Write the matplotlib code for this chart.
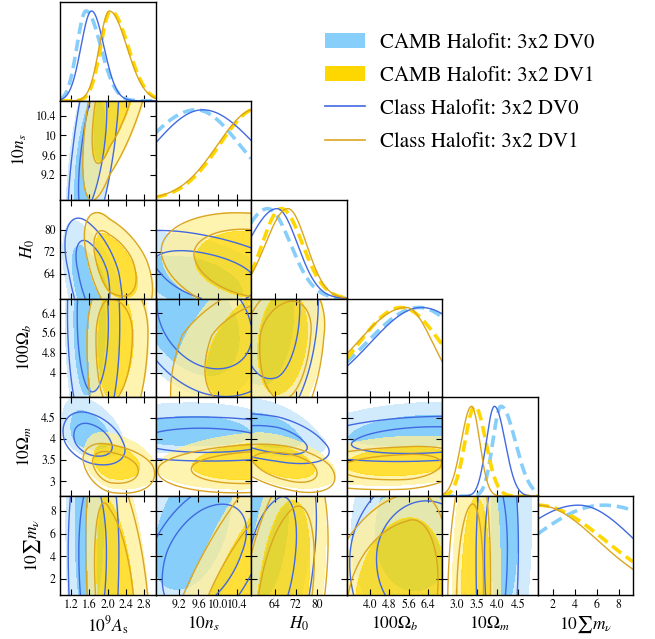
import numpy as np
import matplotlib
matplotlib.use("Agg")
import matplotlib.pyplot as plt
from matplotlib.patches import Patch
from matplotlib.lines import Line2D

plt.rcParams["font.family"] = ["STIXGeneral", "DejaVu Serif"]
plt.rcParams["mathtext.fontset"] = "stix"

# ---- parameters -----------------------------------------------------------
param_labels = [r"$10^9A_{\rm s}$", r"$10n_s$", r"$H_0$", r"$100\Omega_b$",
                r"$10\Omega_m$", r"$10\sum m_\nu$"]
param_ranges = [(0.96, 3.05), (8.7, 10.7), (55.0, 91.0), (3.0, 7.0),
                (2.65, 4.98), (0.6, 9.3)]
tick_values = [[1.2, 1.6, 2.0, 2.4, 2.8], [9.2, 9.6, 10.0, 10.4], [64, 72, 80],
               [4.0, 4.8, 5.6, 6.4], [3.0, 3.5, 4.0, 4.5], [2, 4, 6, 8]]
xtick_labels = [["1.2", "1.6", "2.0", "2.4", "2.8"], ["9.2", "9.6", "10.0", "10.4"],
                ["64", "72", "80"], ["4.0", "4.8", "5.6", "6.4"],
                ["3.0", "3.5", "4.0", "4.5"], ["2", "4", "6", "8"]]
ytick_labels = [["1.2", "1.6", "2", "2.4", "2.8"], ["9.2", "9.6", "10", "10.4"],
                ["64", "72", "80"], ["4", "4.8", "5.6", "6.4"],
                ["3", "3.5", "4", "4.5"], ["2", "4", "6", "8"]]

# ---- posterior summaries: mode, lower width, upper width per parameter ----
camb_dv0_mode = [1.53, 9.55, 61.3, 6.05, 4.09, 6.6]
camb_dv0_lo = [0.20, 1.10, 10.7, 2.22, 0.20, 6.8]
camb_dv0_hi = [0.32, 0.92, 8.6, 1.97, 0.35, 7.7]

class_dv0_mode = [1.65, 9.69, 64.8, 6.14, 3.93, 4.31]
class_dv0_lo = [0.23, 1.03, 11.2, 2.14, 0.20, 6.3]
class_dv0_hi = [0.27, 1.11, 7.7, 2.26, 0.26, 5.2]

camb_dv1_mode = [2.07, 10.85, 66.4, 5.29, 3.45, 0.6]
camb_dv1_lo = [0.22, 0.80, 7.2, 1.76, 0.24, 6.17]
camb_dv1_hi = [0.38, 0.80, 8.0, 1.66, 0.27, 6.17]

class_dv1_mode = [2.04, 10.80, 68.9, 5.50, 3.37, 0.6]
class_dv1_lo = [0.22, 0.80, 8.46, 2.06, 0.25, 5.5]
class_dv1_hi = [0.38, 0.80, 7.0, 1.11, 0.20, 5.5]

# pairwise correlations, order: As, ns, H0, Ob, Om, mnu
dv0_corr = {(0, 1): 0.60, (0, 2): -0.50, (0, 3): -0.05, (0, 4): -0.35, (0, 5): 0.0,
            (1, 2): -0.45, (1, 3): -0.30, (1, 4): -0.05, (1, 5): 0.45,
            (2, 3): 0.20, (2, 4): -0.45, (2, 5): 0.30,
            (3, 4): 0.20, (3, 5): 0.10,
            (4, 5): 0.05}
dv1_corr = {(0, 1): 0.65, (0, 2): -0.50, (0, 3): 0.05, (0, 4): -0.30, (0, 5): -0.35,
            (1, 2): -0.20, (1, 3): 0.50, (1, 4): 0.20, (1, 5): 0.70,
            (2, 3): 0.20, (2, 4): -0.45, (2, 5): 0.40,
            (3, 4): 0.20, (3, 5): 0.20,
            (4, 5): 0.10}

# kernel smoothing widens the 2D contours slightly relative to the 1D curves
SMOOTH_2D = 1.12

chains = [
    dict(name="CAMB Halofit: 3x2 DV0", mode=camb_dv0_mode, lo=camb_dv0_lo, hi=camb_dv0_hi,
         corr=dv0_corr, filled=True, color="#87CEFA",
         fills=("#d2ebfc", "#87CEFA"), alpha=1.0),
    dict(name="CAMB Halofit: 3x2 DV1", mode=camb_dv1_mode, lo=camb_dv1_lo, hi=camb_dv1_hi,
         corr=dv1_corr, filled=True, color="#FFD700",
         fills=("#fff09a", "#FFD700"), alpha=0.78),
    dict(name="Class Halofit: 3x2 DV0", mode=class_dv0_mode, lo=class_dv0_lo, hi=class_dv0_hi,
         corr=dv0_corr, filled=False, color="#4169E1"),
    dict(name="Class Halofit: 3x2 DV1", mode=class_dv1_mode, lo=class_dv1_lo, hi=class_dv1_hi,
         corr=dv1_corr, filled=False, color="#DAA520"),
]


def scaled(x, ch, k, widen=1.0):
    m, lo, hi = ch["mode"][k], ch["lo"][k] * widen, ch["hi"][k] * widen
    return np.where(x < m, (x - m) / lo, (x - m) / hi)


def density_1d(x, ch, k):
    u = scaled(x, ch, k)
    p = np.exp(-0.5 * u ** 2)
    return p / p.max()


def density_2d(X, Y, ch, kx, ky):
    r = ch["corr"][(min(kx, ky), max(kx, ky))]
    u = scaled(X, ch, kx, SMOOTH_2D)
    v = scaled(Y, ch, ky, SMOOTH_2D)
    q = (u ** 2 - 2 * r * u * v + v ** 2) / (1 - r ** 2)
    return np.exp(-0.5 * q)


def hpd_levels(P, fractions=(0.95, 0.68)):
    flat = np.sort(P.ravel())[::-1]
    cum = np.cumsum(flat) / flat.sum()
    return [flat[min(np.searchsorted(cum, f), flat.size - 1)] for f in fractions]


# ---- figure layout ----------------------------------------------------------
W, H = 655, 639
fig = plt.figure(figsize=(W / 100, H / 100), dpi=100)
n = len(param_labels)
x0, x1 = 60, 633
y0, y1 = 2, 595
cw = (x1 - x0) / n
rh = (y1 - y0) / n

for i in range(n):
    for j in range(i + 1):
        ax = fig.add_axes([(x0 + j * cw) / W, 1 - (y0 + (i + 1) * rh) / H, cw / W, rh / H])
        for s in ax.spines.values():
            s.set_linewidth(1.0)
        xr = param_ranges[j]
        ax.set_xlim(*xr)
        ax.set_xticks(tick_values[j])
        if i == j:
            xs = np.linspace(xr[0], xr[1], 400)
            for ch in chains:
                p = density_1d(xs, ch, j)
                if ch["filled"]:
                    ax.plot(xs, p, color=ch["color"], lw=2.6, ls=(0, (3.2, 1.6)))
                else:
                    ax.plot(xs, p, color=ch["color"], lw=1.0)
            ax.set_ylim(0, 1.1)
            ax.set_yticks([])
            ax.tick_params(axis="x", direction="in", length=4, width=0.8,
                           top=False, bottom=True, labelsize=8.5, pad=3)
        else:
            yr = param_ranges[i]
            gx = np.linspace(xr[0], xr[1], 220)
            gy = np.linspace(yr[0], yr[1], 220)
            X, Y = np.meshgrid(gx, gy)
            for ch in chains:
                P = density_2d(X, Y, ch, j, i)
                l95, l68 = hpd_levels(P)
                if ch["filled"]:
                    ax.contourf(X, Y, P, levels=[l95, l68, P.max() * 2],
                                colors=list(ch["fills"]), alpha=ch["alpha"])
                else:
                    ax.contour(X, Y, P, levels=[l95, l68], colors=ch["color"],
                               linewidths=1.0)
            ax.set_ylim(*yr)
            ax.set_yticks(tick_values[i])
            ax.tick_params(direction="in", length=4, width=0.8, top=True, right=True,
                           labelsize=8.5, pad=3)
        if j == 0 and i > 0:
            ax.set_yticklabels(ytick_labels[i])
            ax.set_ylabel(param_labels[i], fontsize=12.5, labelpad=5)
        elif i != j:
            ax.set_yticklabels([])
        if i == n - 1:
            ax.set_xticklabels(xtick_labels[j])
            ax.set_xlabel(param_labels[j], fontsize=12.5, labelpad=3)
        else:
            ax.set_xticklabels([])

handles = [Patch(facecolor=chains[0]["color"], edgecolor="none"),
           Patch(facecolor=chains[1]["color"], edgecolor="none"),
           Line2D([], [], color=chains[2]["color"], lw=1.2),
           Line2D([], [], color=chains[3]["color"], lw=1.2)]
fig.legend(handles, [c["name"] for c in chains], loc="upper left",
           bbox_to_anchor=(325 / W, 1 - 33 / H), frameon=False, fontsize=15,
           handlelength=1.92, handleheight=0.75, handletextpad=0.72, labelspacing=0.63,
           borderaxespad=0, borderpad=0)

fig.savefig("out.png", dpi=100)
